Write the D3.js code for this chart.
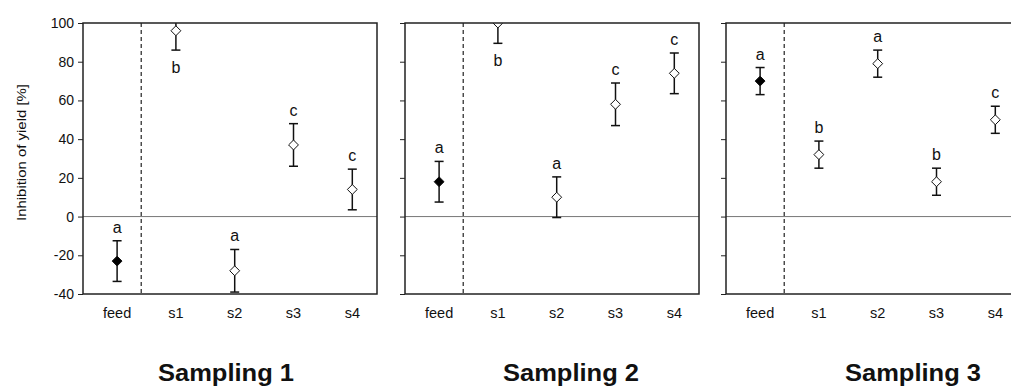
<!DOCTYPE html>
<html>
<head>
<meta charset="utf-8">
<script src="https://cdn.jsdelivr.net/npm/d3@7"></script>
<style>
  html, body { margin: 0; padding: 0; background: #fff; }
  svg { display: block; }
  text { font-family: "Liberation Sans", Arial, sans-serif; fill: #111; }
</style>
</head>
<body>
<div id="chart"></div>
<script>
// ---- data ----
const categories = ["feed", "s1", "s2", "s3", "s4"];
const samplingTitles = ["Sampling 1", "Sampling 2", "Sampling 3"];
const yTicks = [-40, -20, 0, 20, 40, 60, 80, 100];

const means1 = [-23, 96, -28, 37, 14];
const errs1 = [10.5, 10, 11, 11, 10.5];
const letters1 = ["a", "b", "a", "c", "c"];
const letterBelow1 = [false, true, false, false, false];

const means2 = [18, 100, 10, 58, 74];
const errs2 = [10.5, 10.5, 10.5, 11, 10.5];
const letters2 = ["a", "b", "a", "c", "c"];
const letterBelow2 = [false, true, false, false, false];

const means3 = [70, 32, 79, 18, 50];
const errs3 = [7, 7, 7, 7, 7];
const letters3 = ["a", "b", "a", "b", "c"];
const letterBelow3 = [false, false, false, false, false];

const panels = [
  { title: samplingTitles[0], means: means1, errs: errs1, letters: letters1, below: letterBelow1 },
  { title: samplingTitles[1], means: means2, errs: errs2, letters: letters2, below: letterBelow2 },
  { title: samplingTitles[2], means: means3, errs: errs3, letters: letters3, below: letterBelow3 }
];

// ---- layout ----
const W = 1011, H = 390;
const panelLefts = [83, 405, 726];
const panelWidth = 294;
const plotTop = 23, plotBottom = 294;
const titleCenters = [226, 571, 913];

const svg = d3.select("#chart").append("svg").attr("width", W).attr("height", H);

const y = d3.scaleLinear().domain([-40, 100]).range([plotBottom, plotTop]);

svg.append("defs").selectAll("clipPath").data(panels).join("clipPath")
  .attr("id", (d, i) => "clip" + i)
  .append("rect")
  .attr("x", (d, i) => panelLefts[i]).attr("y", plotTop)
  .attr("width", panelWidth).attr("height", plotBottom - plotTop);

const diamond = d3.symbol().type(d3.symbolDiamond2).size(62);

panels.forEach((p, pi) => {
  const left = panelLefts[pi];
  const x = d3.scaleLinear().domain([-0.58, 4.42]).range([left, left + panelWidth]);
  const g = svg.append("g");

  // y axis ticks
  const axis = d3.axisLeft(y).tickValues(yTicks).tickSize(5).tickPadding(4)
    .tickFormat(pi === 0 ? (d => String(d)) : () => "");
  const ag = g.append("g").attr("transform", `translate(${left},0)`).call(axis);
  ag.select(".domain").remove();
  ag.selectAll(".tick line").attr("stroke", "#222").attr("stroke-width", 1);
  ag.selectAll(".tick text").style("font-size", "14px").attr("fill", "#111")
    .style("font-family", "'Liberation Sans', Arial, sans-serif");

  // zero line
  g.append("line")
    .attr("x1", left).attr("x2", left + panelWidth)
    .attr("y1", y(0)).attr("y2", y(0))
    .attr("stroke", "#777").attr("stroke-width", 1);

  // dashed separator
  g.append("line")
    .attr("x1", x(0.41)).attr("x2", x(0.41))
    .attr("y1", plotTop).attr("y2", plotBottom)
    .attr("stroke", "#222").attr("stroke-width", 1.2)
    .attr("stroke-dasharray", "4,3");

  const data = categories.map((c, i) => ({
    c, i, m: p.means[i], e: p.errs[i], l: p.letters[i], below: p.below[i]
  }));

  const marks = g.append("g").attr("clip-path", `url(#clip${pi})`);
  // error bars
  marks.selectAll("line.eb").data(data).join("line")
    .attr("class", "eb")
    .attr("x1", d => x(d.i)).attr("x2", d => x(d.i))
    .attr("y1", d => y(d.m + d.e)).attr("y2", d => y(d.m - d.e))
    .attr("stroke", "#111").attr("stroke-width", 1.5);
  marks.selectAll("line.capT").data(data).join("line")
    .attr("class", "capT")
    .attr("x1", d => x(d.i) - 4.5).attr("x2", d => x(d.i) + 4.5)
    .attr("y1", d => y(d.m + d.e)).attr("y2", d => y(d.m + d.e))
    .attr("stroke", "#111").attr("stroke-width", 1.5);
  marks.selectAll("line.capB").data(data).join("line")
    .attr("class", "capB")
    .attr("x1", d => x(d.i) - 4.5).attr("x2", d => x(d.i) + 4.5)
    .attr("y1", d => y(d.m - d.e)).attr("y2", d => y(d.m - d.e))
    .attr("stroke", "#111").attr("stroke-width", 1.5);
  // diamonds
  marks.selectAll("path.pt").data(data).join("path")
    .attr("class", "pt")
    .attr("d", diamond)
    .attr("transform", d => `translate(${x(d.i)},${y(d.m)})`)
    .attr("fill", d => d.i === 0 ? "#000" : "#fff")
    .attr("stroke", "#111").attr("stroke-width", 1);

  // significance letters
  g.selectAll("text.lt").data(data).join("text")
    .attr("class", "lt")
    .attr("x", d => x(d.i))
    .attr("y", d => d.below ? y(d.m - d.e) + 23 : y(Math.min(d.m + d.e, 100)) - 8)
    .attr("text-anchor", "middle")
    .style("font-size", "16px")
    .text(d => d.l);

  // frame
  g.append("rect")
    .attr("x", left).attr("y", plotTop)
    .attr("width", panelWidth).attr("height", plotBottom - plotTop)
    .attr("fill", "none").attr("stroke", "#222").attr("stroke-width", 1.5);

  // category labels
  g.selectAll("text.cat").data(data).join("text")
    .attr("class", "cat")
    .attr("x", d => x(d.i))
    .attr("y", 318)
    .attr("text-anchor", "middle")
    .style("font-size", "14.5px")
    .text(d => d.c);

  // panel title
  svg.append("text")
    .attr("x", titleCenters[pi]).attr("y", 381)
    .attr("text-anchor", "middle")
    .style("font-size", "23px").style("font-weight", "bold")
    .attr("textLength", 136).attr("lengthAdjust", "spacingAndGlyphs")
    .text(p.title);
});

// y-axis title
svg.append("text")
  .attr("transform", `translate(26,${(plotTop + plotBottom) / 2 - 6}) rotate(-90)`)
  .attr("text-anchor", "middle")
  .style("font-size", "13.5px")
  .attr("textLength", 137).attr("lengthAdjust", "spacingAndGlyphs")
  .text("Inhibition of yield [%]");
</script>
</body>
</html>
